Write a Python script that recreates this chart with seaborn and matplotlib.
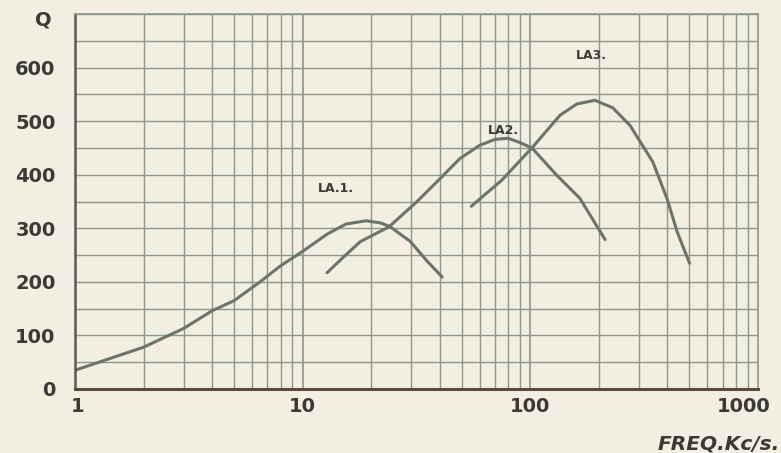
import numpy as np
import pandas as pd
import matplotlib
matplotlib.use("Agg")
import matplotlib.pyplot as plt
import matplotlib.transforms as mtransforms
import seaborn as sns

# ── data ────────────────────────────────────────────────
la1_freq = [1, 2, 3, 4, 5, 6.5, 8, 10, 12.8, 15.5, 19, 22, 24.2, 29.6, 35, 41]
la1_q    = [35, 78, 113, 146, 165, 200, 230, 257, 289, 308, 314, 310, 303, 276, 240, 209]

la2_freq = [12.8, 15, 17.9, 24, 31.8, 40, 49, 60, 70, 80, 90, 101.6, 130, 165, 196, 213]
la2_q    = [217, 245, 275, 303, 350, 392, 430, 455, 466, 468, 460, 450, 400, 356, 304, 279]

la3_freq = [55, 75, 101.6, 135, 160, 192, 230, 274, 345, 398, 441, 500]
la3_q    = [341, 390, 450, 511, 532, 539, 525, 492, 424, 356, 294, 235]

y_ticks = [0, 100, 200, 300, 400, 500, 600]
x_ticks = [1, 10, 100, 1000]
x_ticklabels = ["1", "10", "100", "1000"]

df = pd.concat([
    pd.DataFrame({"freq": la1_freq, "Q": la1_q, "curve": "LA.1."}),
    pd.DataFrame({"freq": la2_freq, "Q": la2_q, "curve": "LA2."}),
    pd.DataFrame({"freq": la3_freq, "Q": la3_q, "curve": "LA3."}),
])

PAPER = "#f3eee2"
GRID  = "#8d978a"
INK   = "#3a3a36"
CURVE = "#6c7568"

sns.set_style("white")
plt.rcParams["font.family"] = ["DejaVu Sans"]

fig = plt.figure(figsize=(7.81, 4.53), dpi=100, facecolor=PAPER)
ax = fig.add_axes([75 / 781, 1 - 389 / 453, 683 / 781, 375 / 453])
ax.set_facecolor(PAPER)

sns.lineplot(data=df, x="freq", y="Q", hue="curve", units="curve", estimator=None,
             palette=[CURVE, CURVE, CURVE], linewidth=2.2, legend=False, ax=ax, sort=False)

ax.set_xscale("log")
ax.set_xlim(1, 1000)
ax.set_ylim(0, 700)

# graph-paper grid
for dec in [1, 10, 100]:
    for k in range(2, 10):
        ax.axvline(dec * k, color=GRID, linewidth=1.0, zorder=0)
for d in [10, 100]:
    ax.axvline(d, color=GRID, linewidth=1.2, zorder=0)
for yv in range(50, 701, 50):
    ax.axhline(yv, color=GRID, linewidth=1.0, zorder=0)

for side in ["top", "right"]:
    ax.spines[side].set_color(GRID)
    ax.spines[side].set_linewidth(1.2)
ax.spines["left"].set_color("#5c5a55")
ax.spines["left"].set_linewidth(1.8)
ax.spines["bottom"].set_color("#5a4a42")
ax.spines["bottom"].set_linewidth(2.2)

ax.set_yticks(y_ticks)
ax.set_yticklabels([str(v) for v in y_ticks])
ax.set_xticks(x_ticks)
ax.set_xticklabels(x_ticklabels)
ax.xaxis.set_minor_locator(matplotlib.ticker.NullLocator())
ax.tick_params(axis="both", length=0, labelsize=14, colors=INK)
ax.tick_params(axis="y", pad=14)
ax.tick_params(axis="x", pad=6)
for t in ax.get_yticklabels() + ax.get_xticklabels():
    t.set_fontweight("bold")
# pull the "1000" label in so it sits inside the page like the original
last = ax.get_xticklabels()[-1]
last.set_transform(last.get_transform() + mtransforms.ScaledTranslation(-14 / 100, 0, fig.dpi_scale_trans))
first = ax.get_xticklabels()[0]
first.set_transform(first.get_transform() + mtransforms.ScaledTranslation(3 / 100, 0, fig.dpi_scale_trans))
ax.set_xlabel("")
ax.set_ylabel("")

# curve labels
ax.text(14, 374, "LA.1.", fontsize=9, fontweight="bold", color=INK, ha="center", va="center")
ax.text(76, 483, "LA2.", fontsize=9, fontweight="bold", color=INK, ha="center", va="center")
ax.text(186, 622, "LA3.", fontsize=9, fontweight="bold", color=INK, ha="center", va="center")

fig.text(43 / 781, 1 - 20 / 453, "Q", fontsize=14, fontweight="bold", color=INK,
         ha="center", va="center")
fig.text(780 / 781, 1 - 444 / 453, "FREQ.Kc/s.", fontsize=14.5, fontweight="bold",
         fontstyle="italic", color=INK, ha="right", va="center")

fig.savefig("out.png", dpi=100, facecolor=PAPER)
